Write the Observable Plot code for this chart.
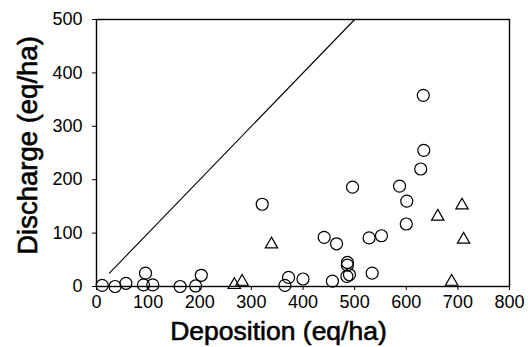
<!DOCTYPE html>
<html>
<head>
<meta charset="utf-8">
<script src="https://cdn.jsdelivr.net/npm/d3@7"></script>
<script src="https://cdn.jsdelivr.net/npm/@observablehq/plot@0.6"></script>
<style>
  body { margin: 0; background: white; }
</style>
</head>
<body>
<div id="chart"></div>
<script>
// Circles (deposition, discharge)
const circleX = [11, 36, 57, 95, 91, 109, 162, 192, 203, 321, 365, 372, 400, 441, 465, 457, 486, 486, 485, 490, 496, 528, 552, 534, 587, 601, 600, 628, 634, 633];
const circleY = [2, 0, 6, 25, 3, 3, 0, 1, 21, 154, 2, 17, 14, 92, 80, 10, 45, 40, 19, 22, 186, 91, 95, 25, 188, 160, 117, 220, 255, 358];
// Triangles
const triX = [267, 282, 339, 661, 708, 711, 688];
const triY = [3, 9, 79, 131, 152, 88, 9];
// 1:1 line endpoints
const lineVals = [25, 500];
const xTicks = [0, 100, 200, 300, 400, 500, 600, 700, 800];
const yTicks = [0, 100, 200, 300, 400, 500];
const xTitle = "Deposition (eq/ha)";
const yTitle = "Discharge (eq/ha)";

const circles = circleX.map((x, i) => ({x, y: circleY[i]}));
const tris = triX.map((x, i) => ({x, y: triY[i]}));

const chart = Plot.plot({
  width: 528,
  height: 347,
  marginLeft: 96,
  marginRight: 19,
  marginTop: 19,
  marginBottom: 61,
  x: {domain: [0, 800]},
  y: {domain: [0, 500]},
  style: {fontFamily: "Liberation Sans", background: "white", color: "black", overflow: "visible"},
  marks: [
    Plot.axisX({ticks: xTicks, tickSize: 4, tickPadding: 5, fontSize: 18, label: null}),
    Plot.axisY({ticks: yTicks, tickSize: 4, tickPadding: 10, fontSize: 18, label: null}),
    Plot.frame({stroke: "black", strokeWidth: 1.4}),
    Plot.line(lineVals, {x: d => d, y: d => d, stroke: "black", strokeWidth: 1.1}),
    Plot.dot(circles, {x: "x", y: "y", r: 6, stroke: "black", strokeWidth: 1.2, fill: "none"}),
    Plot.dot(tris, {x: "x", y: "y", symbol: "triangle", r: 4.6, stroke: "black", strokeWidth: 1.2, fill: "none"}),
    Plot.text([xTitle], {text: d => d, frameAnchor: "bottom", textAnchor: "middle", lineAnchor: "middle", dy: 45.5, dx: -24.5, fontSize: 26.5, fill: "black", stroke: "black", strokeWidth: 0.6}),
    Plot.text([yTitle], {text: d => d, frameAnchor: "left", textAnchor: "middle", lineAnchor: "middle", rotate: -90, dx: -68, dy: -7.5, fontSize: 27.5, fill: "black", stroke: "black", strokeWidth: 0.6})
  ]
});
document.getElementById("chart").appendChild(chart);
</script>
</body>
</html>
